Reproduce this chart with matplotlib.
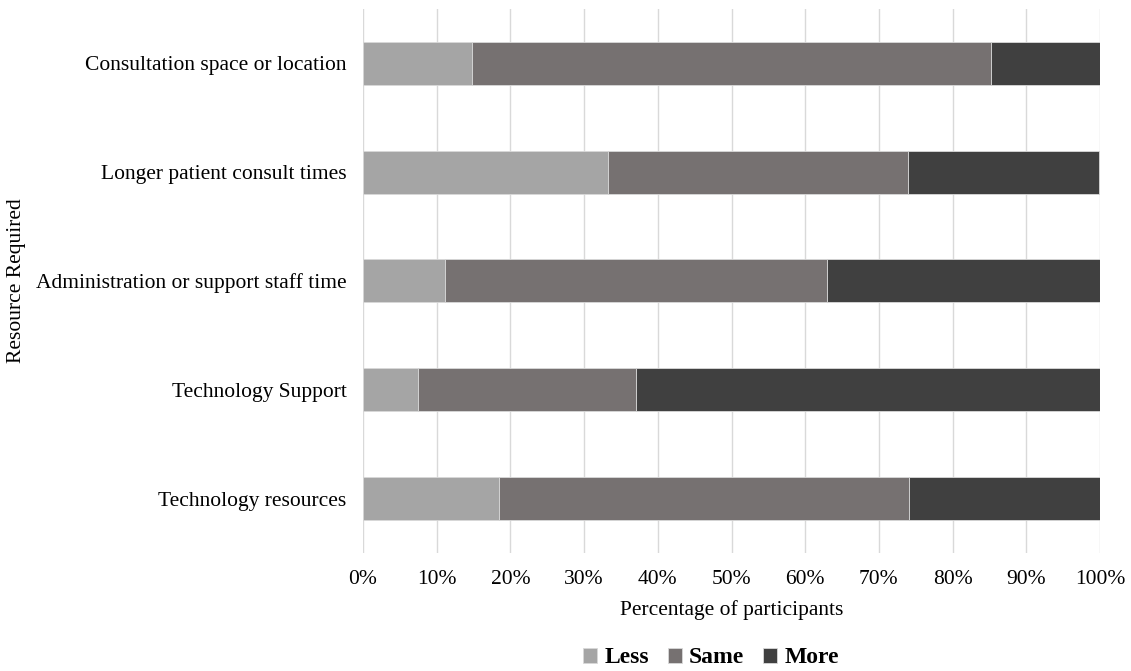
import matplotlib.pyplot as plt
import numpy as np

# Данные (доли участников, n = 27)
categories = ['Consultation space or location',
              'Longer patient consult times',
              'Administration or support staff time',
              'Technology Support',
              'Technology resources']
less = [14.8, 33.3, 11.1, 7.4, 18.5]
same = [70.4, 40.7, 51.9, 29.6, 55.6]
more = [14.8, 25.9, 37.0, 63.0, 25.9]

series_names = ['Less', 'Same', 'More']
colors = ['#A5A5A5', '#767171', '#404040']

plt.rcParams['font.family'] = ['Liberation Serif', 'DejaVu Serif']

fig = plt.figure(figsize=(11.31, 6.71), dpi=100)
ax = fig.add_axes([0.321, 0.1759, 0.6516, 0.8107])

y = np.arange(len(categories))
left = np.zeros(len(categories))
for name, vals, c in zip(series_names, [less, same, more], colors):
    ax.barh(y, vals, left=left, height=0.395, color=c, label=name,
            edgecolor='#D9D9D9', linewidth=0.6, zorder=3)
    left += np.array(vals)

ax.set_ylim(len(categories) - 0.5, -0.5)
ax.set_xlim(0, 100)
ax.set_yticks(y)
ax.set_yticklabels(categories, fontsize=15.5)
ax.set_xticks(np.arange(0, 101, 10))
ax.set_xticklabels([f'{v}%' for v in range(0, 101, 10)], fontsize=15.5)
ax.tick_params(axis='y', length=0, pad=12)
ax.tick_params(axis='x', length=0, pad=12)
ax.grid(axis='x', color='#D9D9D9', linewidth=1, zorder=0)
for s in ax.spines.values():
    s.set_visible(False)

ax.set_xlabel('Percentage of participants', fontsize=15.5, labelpad=8)
fig.text(17 / 1131, 1 - 281 / 671, 'Resource Required', fontsize=15.5,
         rotation=90, ha='center', va='center')

ax.legend(loc='center', bbox_to_anchor=(0.472, -0.193), ncol=3, frameon=False,
          prop={'size': 17, 'weight': 'bold'}, handlelength=0.6, handleheight=0.6,
          handletextpad=0.3, columnspacing=0.8, borderaxespad=0, borderpad=0)

plt.savefig('out.png', dpi=100)
plt.close()
